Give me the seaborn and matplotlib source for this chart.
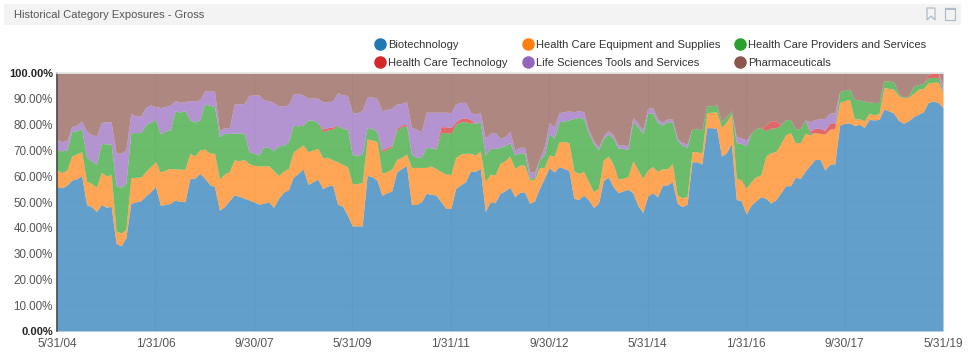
import numpy as np
import matplotlib
matplotlib.use("Agg")
import matplotlib.pyplot as plt
import seaborn as sns
from matplotlib.lines import Line2D
from matplotlib.patches import Rectangle, Polygon

# -----------------------------
# Data, read off the chart as the top edge of each band (%), month by month
# -----------------------------
categories = [
    "Biotechnology",
    "Health Care Equipment and Supplies",
    "Health Care Providers and Services",
    "Health Care Technology",
    "Life Sciences Tools and Services",
    "Pharmaceuticals",
]

tick_labels = ["5/31/04", "1/31/06", "9/30/07", "5/31/09", "1/31/11",
               "9/30/12", "5/31/14", "1/31/16", "9/30/17", "5/31/19"]
tick_months = [0, 20, 40, 60, 80, 100, 120, 140, 160, 180]
y_ticks = [0, 10, 20, 30, 40, 50, 60, 70, 80, 90, 100]

biotech_top = [
    56, 55.5, 56.5, 58.5, 59, 60.2, 49, 48.2, 46.3, 49, 48, 48.3, 34, 33, 36.2, 49.5, 50, 50.5, 52.3, 54, 56, 48.8, 49, 49.5, 50.8, 50.2,
    50.1, 59.2, 59.2, 61.1, 59.2, 56.8, 55.9, 46.8, 48.2, 50.5, 52.8, 52.2, 51.5, 50.8, 50, 49.2, 49.5, 50.1, 47.9, 51.4, 53.8, 54.7, 59.6, 61.1, 62.8, 56.8,
    57.9, 58.8, 55.2, 56.2, 56.6, 49.1, 48.4, 44.9, 40.7, 40.8, 40.7, 60.3, 59.8, 58.5, 52.6, 53.6, 54.3, 61.6, 63, 64.1, 49, 49.1, 50, 53.4, 53,
    52.7, 50.1, 47.5, 47.5, 55.3, 56.6, 57.9, 62, 61.9, 63, 46.3, 50.1, 49.7, 53.4, 54.3, 55.7, 52, 53.8, 53.9, 49.5, 50.4, 55.3, 59.2, 63.3, 61.6, 63.7,
    63, 62.2, 51.4, 51, 52.7, 50.8, 47.9, 49.5, 58.3, 59.8, 55.9, 53.6, 54.3, 54.9, 53.6, 48.6, 46, 52.3, 53.6, 52, 56.6, 56.6, 57.9, 49.5, 48.2,
    49.1, 65.6, 65.6, 64.7, 78.8, 78.8, 78.5, 67.8, 69.1, 72.7, 51, 50.5, 45.3, 48.8, 50.5, 52.1, 51.4, 49.6, 50.8, 53.4, 56.3, 56.3, 59.6, 59.2, 62, 64.3,
    66.5, 66.5, 62.4, 64.6, 64.8, 79.8, 80.5, 80.7, 79.6, 80.1, 78.9, 82, 81.8, 82, 86, 85.3, 84.4, 81.5, 80.5, 81.5, 83.1, 84, 85, 88.6, 89.1, 88.6, 86.6,
]

equipment_top = [
    62.4, 61.4, 62.4, 67.8, 68.6, 69.5, 58.1, 57.2, 55.7, 61.5, 60.1, 60.6, 38.8, 37.9, 39.4, 59.4, 59.6, 59.6, 61.8, 63.7, 65.6, 61.5, 62.4, 63, 62.8, 62.7,
    62.7, 68.9, 67.8, 70.2, 70.5, 68.9, 68.9, 59, 60.8, 61.8, 66.3, 66, 66.5, 64.9, 64.2, 64, 64, 64.1, 62.2, 60.2, 62, 63, 69.5, 70.8, 72.1, 69.5,
    70.2, 70.8, 67.2, 67.3, 66.3, 65.6, 64.6, 63.7, 57, 57.2, 57.5, 74.4, 74, 73.4, 61.1, 61.8, 62.7, 66.5, 67.3, 68.6, 63.4, 63.4, 63.4, 63.4, 64,
    62.9, 61.8, 60.8, 60.7, 67.3, 68.6, 68.9, 68.9, 68.2, 69.8, 57.9, 60.8, 60.5, 65, 66, 67.8, 63, 64.3, 64.3, 58.5, 58.8, 63.4, 63.4, 68.2, 67.8, 73.4,
    73.4, 73, 62, 61.1, 61.8, 57.9, 54, 55.3, 66.3, 67.8, 64.6, 58.8, 59.2, 59.8, 66, 62.4, 59.2, 62.4, 63.7, 61.8, 62.9, 62.8, 65, 52.7, 51.7,
    52.1, 69.5, 69.5, 68.9, 84.6, 84.8, 85, 78.9, 81.1, 84, 59.2, 58.5, 55.3, 57.9, 59.8, 60.5, 67.8, 69.1, 69.5, 72.5, 76, 76.9, 73, 73, 76.6, 76,
    76.9, 76.6, 76.3, 78.2, 78.4, 88.6, 89.3, 89.8, 82.2, 82.3, 81.5, 84.4, 83.7, 84.4, 94.4, 94, 93.7, 91.1, 90.4, 90.6, 92.1, 93.7, 94, 96.2, 96.4, 96.4, 92.4,
]

providers_top = [
    70.2, 69.8, 70.2, 77.3, 77.6, 78.5, 67.3, 66, 64.5, 72.7, 72.5, 72.5, 56.2, 55.7, 57.2, 76.9, 76.9, 76.9, 79.8, 81.1, 81.8, 76.4, 77.5, 77.9, 85.4, 84.8,
    85.4, 81.8, 81, 81.8, 88, 87.5, 87, 75.3, 76.6, 76.6, 76.6, 76.7, 76.9, 69.5, 68.9, 68.2, 71.4, 71.2, 69.8, 71.8, 71.9, 73.4, 79.8, 79.5, 79.8, 81.8,
    81.8, 80.7, 77.3, 77.9, 78.3, 79.8, 78.5, 78.2, 68.2, 68.2, 68.5, 78.9, 78.5, 77.3, 69.5, 70.4, 71.4, 77.9, 79.2, 79.5, 68.5, 67.3, 67.3, 71.2, 71,
    70.5, 76.9, 76.9, 76.6, 80.2, 81, 81.1, 80.7, 80.5, 81.1, 68.2, 70.8, 70.8, 71.2, 71.8, 73, 68.2, 69.1, 68.9, 59.2, 59.6, 66.3, 68.2, 76.6, 74.7, 81.1,
    81.4, 81.8, 82.4, 82.8, 82.2, 76.6, 72.7, 70.2, 74.7, 76.4, 74.7, 70.8, 70.8, 70.4, 81.1, 79.2, 76.6, 84.4, 84.6, 80.8, 79.8, 81.1, 81.1, 73.8, 72.1,
    71.2, 78.5, 78.4, 77.9, 87.2, 87.3, 87.6, 81.1, 83.1, 85.4, 73, 72.7, 71.7, 76.6, 78.5, 78.9, 77.6, 78.7, 78.7, 79.8, 81.8, 82, 78.2, 78.5, 81.8, 76.6,
    76.9, 76.6, 76.3, 78.2, 78.4, 92.8, 93.4, 93.7, 89.8, 89.5, 89.1, 88.8, 88.6, 88.6, 97, 96.9, 96.5, 91.9, 90.6, 91.1, 95, 95.5, 96, 98.2, 98.3, 98.3, 92.8,
]

# band thickness, it is only there in a few stretches
technology = (
    [0] * 54 + [1.0, 0.9, 0.8] + [0] * 9 + [0.7, 0.7, 0.5, 0.7, 0.6, 0.7] + [0] * 6
    + [2.3, 2.3, 2.3, 0.9, 1.4, 1.5, 1.3] + [0] * 59 + [2.2, 2.8, 2.8, 0.3] + [0] * 5
    + [0.9, 1.7, 1.9, 1.5, 2.3, 2.0] + [0] * 18 + [1.3, 1.7, 1.7, 0]
)

tools_top = [
    74.3, 73.4, 73.8, 79.2, 79.8, 81.4, 77.5, 76, 75.7, 80.8, 81.1, 81, 68.9, 68.9, 70.2, 84.4, 83.3, 83.3, 86.7, 87.6, 87, 86.6, 87, 87.5, 89.3, 88.6,
    88.9, 89.3, 89.3, 89.5, 93.1, 93, 93, 77.6, 78.9, 78.5, 87.9, 88, 88.2, 91.3, 91.5, 91.5, 89.5, 89.3, 88.5, 87.2, 87.3, 87.6, 91.9, 92.1, 91.5, 90.2,
    90.3, 90.2, 88.8, 88.9, 89.1, 92.4, 91.5, 91.3, 84.6, 84.6, 85.4, 90.6, 90.7, 90.2, 85.4, 85.9, 86.3, 87.9, 88.2, 88.9, 78.9, 78.2, 77.3, 84.8, 84.8,
    84.8, 84.8, 84.8, 84.6, 88, 88.6, 88.6, 84.8, 84.1, 84.6, 74.7, 76.6, 77, 74.7, 75.3, 77.3, 70.2, 71.2, 71.2, 61.8, 61.6, 66.5, 71.4, 80.8, 79, 84.6,
    85, 85.3, 85, 85.4, 85, 77.9, 73.8, 71.2, 75.6, 77.6, 76, 72.1, 72.1, 71.8, 82.8, 80.5, 77.9, 86.3, 86.6, 82.2, 80.9, 82.2, 82.2, 74.7, 73,
    72.5, 78.5, 78.4, 77.9, 87.2, 87.3, 87.6, 81.1, 83.1, 85.4, 75.3, 74.9, 74, 76.6, 78.5, 78.9, 79.8, 81.5, 81.5, 80.1, 81.8, 82, 78.2, 78.5, 81.8, 81.1,
    82, 82.2, 82.4, 84.4, 84.6, 92.8, 93.4, 93.7, 89.8, 89.5, 89.1, 88.8, 88.6, 88.6, 97, 96.9, 96.5, 91.9, 90.6, 91.1, 95, 95.5, 96, 99.5, 100, 100, 95.7,
]

# -----------------------------
# Bands from the edges
# -----------------------------
biotech = np.array(biotech_top, dtype=float)
equipment = np.array(equipment_top) - biotech
providers = np.array(providers_top) - np.array(equipment_top)
tech = np.array(technology, dtype=float)
tools = np.clip(np.array(tools_top) - np.array(providers_top) - tech, 0, None)
pharma = np.clip(100 - np.array(tools_top), 0, None)
months = np.arange(len(biotech))

# -----------------------------
# Plot
# -----------------------------
sns.set_theme(style="white")
plt.rcParams["font.family"] = ["Liberation Sans", "DejaVu Sans"]
palette = sns.color_palette("tab10", 6)

W, H = 974, 362
fig = plt.figure(figsize=(W / 100, H / 100), dpi=100)
ax = fig.add_axes([57 / W, (H - 331) / H, (943 - 57) / W, (331 - 73) / H])

ax.stackplot(months, biotech, equipment, providers, tech, tools, pharma,
             colors=palette, alpha=0.7, linewidth=0, zorder=2)

ax.set_xlim(0, 180)
ax.set_ylim(0, 100)
ax.set_xticks(tick_months)
ax.set_xticklabels(tick_labels, fontsize=8.6, color="#555555")
ax.set_yticks(y_ticks)
ax.set_yticklabels([f"{v:.2f}%" for v in y_ticks], fontsize=8.4, color="#555555")
for lab in (ax.get_yticklabels()[0], ax.get_yticklabels()[-1]):
    lab.set_fontweight("bold")
    lab.set_fontsize(8.0)
    lab.set_color("#222222")
ax.grid(True, axis="x", color="#eeeeee", linewidth=0.8, zorder=1)
ax.grid(True, axis="y", color="#f8f8f8", linewidth=0.8, zorder=1)
ax.set_axisbelow(True)

sns.despine(ax=ax, right=True, top=False, bottom=True)
ax.xaxis.tick_bottom()
ax.tick_params(axis="both", length=0)
ax.tick_params(axis="x", pad=5)
ax.tick_params(axis="y", pad=3)
ax.spines["left"].set_color("#444444")
ax.spines["left"].set_linewidth(1.2)
ax.spines["top"].set_color("#e4e4e4")

# legend fills columns first
order = [0, 3, 1, 4, 2, 5]
handles = [Line2D([], [], linestyle="", marker="o", markersize=8.0,
                  color=palette[i], label=categories[i]) for i in order]
fig.legend(handles=handles, ncol=3, frameon=False, fontsize=8.0,
           loc="upper left", bbox_to_anchor=(375 / W, 1 - 40 / H),
           bbox_transform=fig.transFigure, borderaxespad=0, borderpad=0,
           handlelength=0.9, handletextpad=0.25, columnspacing=1.39,
           labelspacing=0.68, labelcolor="#333333")

# -----------------------------
# Panel header
# -----------------------------
fig.add_artist(Rectangle((4 / W, 1 - 25 / H), 957 / W, 21 / H,
                         transform=fig.transFigure, color="#f3f3f3", lw=0, zorder=0))
fig.text(14 / W, 1 - 15 / H, "Historical Category Exposures - Gross",
         fontsize=8.0, color="#555555", va="center", ha="left")

icon = "#b0bcc8"
mark = [(927, 8), (935, 8), (935, 20), (931, 16), (927, 20)]
fig.add_artist(Polygon([(x / W, 1 - y / H) for x, y in mark], closed=True, fill=False,
                       edgecolor=icon, lw=0.9, transform=fig.transFigure))
fig.add_artist(Rectangle((945 / W, 1 - 20 / H), 10 / W, 12 / H, fill=False,
                         edgecolor=icon, lw=0.9, transform=fig.transFigure))
fig.add_artist(Rectangle((945 / W, 1 - 10 / H), 10 / W, 2 / H, color=icon, lw=0,
                         transform=fig.transFigure))

fig.savefig("out.png", dpi=100)
plt.close(fig)
